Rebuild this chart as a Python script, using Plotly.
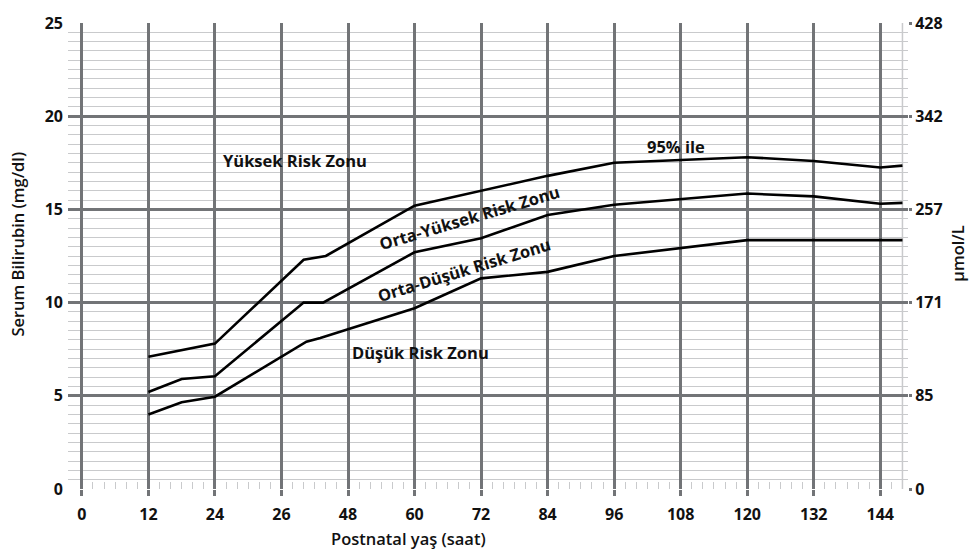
import plotly.graph_objects as go

# ---- data ----
hours_95 = [12, 24, 40, 44, 60, 72, 84, 96, 120, 132, 144, 148]
bili_95 = [7.1, 7.8, 12.3, 12.5, 15.2, 16.0, 16.8, 17.5, 17.8, 17.6, 17.25, 17.35]

hours_75 = [12, 18, 24, 40, 43.5, 60, 72, 84, 96, 120, 132, 144, 148]
bili_75 = [5.2, 5.9, 6.05, 10.0, 10.0, 12.7, 13.45, 14.7, 15.25, 15.85, 15.7, 15.3, 15.35]

hours_40 = [12, 18, 24, 40.5, 43, 60, 72, 84, 96, 120, 144, 148]
bili_40 = [4.0, 4.65, 4.95, 7.9, 8.1, 9.7, 11.3, 11.65, 12.5, 13.35, 13.35, 13.35]

x_tickvals = [0, 12, 24, 36, 48, 60, 72, 84, 96, 108, 120, 132, 144]
x_ticktext = ["0", "12", "24", "26", "48", "60", "72", "84", "96", "108", "120", "132", "144"]
y_tickvals = [0, 5, 10, 15, 20, 25]
y_ticktext_umol = ["0", "85", "171", "257", "342", "428"]

zone_labels = [
    ("Yüksek Risk Zonu", 38.4, 17.65, 0),
    ("95% ile", 107.2, 18.35, 0),
    ("Orta-Yüksek Risk Zonu", 69.9, 14.55, -16.5),
    ("Orta-Düşük Risk Zonu", 69.0, 11.8, -17),
    ("Düşük Risk Zonu", 61.1, 7.35, 0),
]

FONT = "Open Sans"
DARK = "#727477"
LIGHT = "#c9cacc"
TXT = "#111111"

fig = go.Figure()
for xs, ys in [(hours_95, bili_95), (hours_75, bili_75), (hours_40, bili_40)]:
    fig.add_trace(go.Scatter(x=xs, y=ys, mode="lines",
                             line=dict(color="#000000", width=2.6),
                             showlegend=False, hoverinfo="skip"))
# invisible trace to activate right axis
fig.add_trace(go.Scatter(x=[None], y=[None], yaxis="y2", showlegend=False, hoverinfo="skip"))

fig.add_shape(type="line", xref="x", yref="y", x0=148, x1=148, y0=0, y1=25,
              line=dict(color=LIGHT, width=1.5), layer="below")

for text, x, y, ang in zone_labels:
    fig.add_annotation(x=x, y=y, xref="x", yref="y", text=text, showarrow=False,
                       textangle=ang, xanchor="center", yanchor="middle",
                       font=dict(family=FONT, size=16.5, color=TXT, weight="bold"))

fig.add_annotation(x=0.405, y=-0.106, xref="paper", yref="paper",
                   text="Postnatal yaş (saat)", showarrow=False,
                   xanchor="center", yanchor="middle",
                   font=dict(family=FONT, size=16.5, color=TXT, weight=600))
fig.add_annotation(x=-0.0595, y=0.5245, xref="paper", yref="paper",
                   text="Serum Bilirubin (mg/dl)", showarrow=False, textangle=-90,
                   xanchor="center", yanchor="middle",
                   font=dict(family=FONT, size=16.5, color=TXT, weight=600))
fig.add_annotation(x=1.0595, y=0.505, xref="paper", yref="paper",
                   text="µmol/L", showarrow=False, textangle=-90,
                   xanchor="center", yanchor="middle",
                   font=dict(family=FONT, size=16.5, color=TXT, weight=600))

fig.update_layout(
    width=970, height=556,
    margin=dict(l=68, r=62, t=20, b=67),
    paper_bgcolor="white", plot_bgcolor="white",
    font=dict(family=FONT, color=TXT),
    xaxis=dict(range=[-2.5, 149], tickvals=x_tickvals, ticktext=x_ticktext,
               showgrid=True, gridcolor=DARK, gridwidth=2.5,
               zeroline=False, showline=False,
               ticks="outside", ticklen=6, tickwidth=2.5, tickcolor=DARK,
               ticklabelstandoff=5,
               tickfont=dict(family=FONT, size=16, color=TXT, weight="bold"),
               minor=dict(tickvals=[v for v in range(2, 149, 2) if v % 12 != 0],
                          ticks="inside", ticklen=7,
                          tickwidth=1, tickcolor=LIGHT, showgrid=False),
               fixedrange=True),
    yaxis=dict(range=[0, 25], tickvals=y_tickvals,
               showgrid=True, gridcolor=DARK, gridwidth=2.5,
               zeroline=False, showline=False,
               ticks="", ticklabelstandoff=4,
               tickfont=dict(family=FONT, size=16, color=TXT, weight="bold"),
               minor=dict(dtick=0.5, tick0=0, showgrid=True, gridcolor=LIGHT,
                          gridwidth=1.3),
               fixedrange=True),
    yaxis2=dict(range=[0, 25], overlaying="y", side="right",
                tickvals=y_tickvals, ticktext=y_ticktext_umol,
                showgrid=False, zeroline=False, showline=False,
                ticks="outside", ticklen=3, tickwidth=2.5, tickcolor=DARK,
                tickfont=dict(family=FONT, size=16, color=TXT, weight="bold"),
                fixedrange=True),
)

fig.write_html("out.html")
